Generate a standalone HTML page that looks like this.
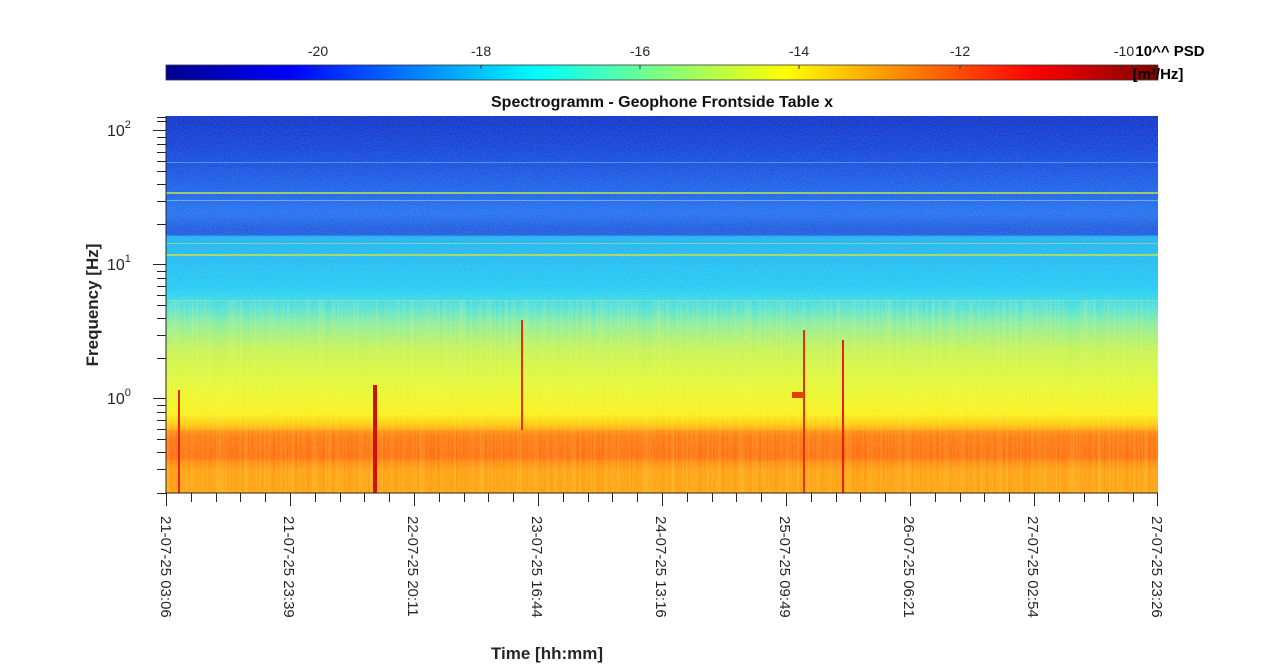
<!DOCTYPE html>
<html><head><style>body{margin:0;background:#fff}svg{display:block}</style></head><body>
<svg width="1280" height="664" xmlns="http://www.w3.org/2000/svg" font-family="Liberation Sans, Arial, sans-serif">
<defs>
<linearGradient id="jet" x1="0" x2="1" y1="0" y2="0">
<stop offset="0" stop-color="#00008f"/><stop offset="0.125" stop-color="#0000ff"/><stop offset="0.375" stop-color="#00ffff"/><stop offset="0.625" stop-color="#ffff00"/><stop offset="0.875" stop-color="#ff0000"/><stop offset="1" stop-color="#800000"/>
</linearGradient>
<linearGradient id="spec" x1="0" x2="0" y1="0" y2="1">
<stop offset="0" stop-color="#0c30c8"/>
<stop offset="0.08" stop-color="#1040d8"/>
<stop offset="0.2" stop-color="#1a60ea"/>
<stop offset="0.26" stop-color="#2070ee"/>
<stop offset="0.3" stop-color="#1a58e0"/>
<stop offset="0.315" stop-color="#1a5ce0"/>
<stop offset="0.32" stop-color="#20b0f0"/>
<stop offset="0.45" stop-color="#20c8f4"/>
<stop offset="0.5" stop-color="#38dce8"/>
<stop offset="0.55" stop-color="#80eca0"/>
<stop offset="0.62" stop-color="#c0f250"/>
<stop offset="0.72" stop-color="#e4f828"/>
<stop offset="0.79" stop-color="#f8f010"/>
<stop offset="0.82" stop-color="#ffc000"/>
<stop offset="0.85" stop-color="#ff7a00"/>
<stop offset="0.9" stop-color="#ff6a00"/>
<stop offset="0.94" stop-color="#ff9800"/>
<stop offset="1" stop-color="#ff9800"/>
</linearGradient>
<filter id="n" x="0" y="0" width="1" height="1">
<feTurbulence type="fractalNoise" baseFrequency="0.9 0.9" numOctaves="1" seed="3"/>
<feColorMatrix type="matrix" values="0 0 0 0 1  0 0 0 0 1  0 0 0 0 1  0 0 0 0.35 -0.1"/>
</filter>
<filter id="v" x="0" y="0" width="1" height="1">
<feTurbulence type="fractalNoise" baseFrequency="0.6 0.005" numOctaves="1" seed="5"/>
<feColorMatrix type="matrix" values="0 0 0 0 1  0 0 0 0 1  0 0 0 0 0.2  0 0 0 0.5 -0.15"/>
</filter>
</defs>
<rect x="166" y="65" width="992" height="15" fill="url(#jet)" stroke="#333" stroke-width="0.8"/>
<g stroke="#333" stroke-width="1">
<line x1="318" y1="65" x2="318" y2="69"/><line x1="481" y1="65" x2="481" y2="69"/><line x1="640" y1="65" x2="640" y2="69"/><line x1="799" y1="65" x2="799" y2="69"/><line x1="960" y1="65" x2="960" y2="69"/><line x1="1120" y1="65" x2="1120" y2="69"/>
</g>
<g font-size="14" fill="#262626" text-anchor="middle">
<text x="318" y="56">-20</text><text x="481" y="56">-18</text><text x="640" y="56">-16</text><text x="799" y="56">-14</text><text x="960" y="56">-12</text><text x="1124" y="56">-10</text>
</g>
<text x="1170" y="56" font-size="15" font-weight="bold" text-anchor="middle">10^^ PSD</text>
<text x="1158" y="79" font-size="15" font-weight="bold" text-anchor="middle">[m²/Hz]</text>
<text x="662" y="107" font-size="16" font-weight="bold" text-anchor="middle" fill="#111">Spectrogramm - Geophone Frontside Table x</text>
<rect x="166" y="116" width="992" height="377" fill="url(#spec)"/>
<g opacity="0.8">
<rect x="166" y="192" width="992" height="2" fill="#b0e040"/>
<rect x="166" y="200" width="992" height="1" fill="#60c0e0"/>
<rect x="166" y="162" width="992" height="1" fill="#40a0e8"/>
<rect x="166" y="254" width="992" height="2" fill="#c0e040"/>
<rect x="166" y="243" width="992" height="1" fill="#70e0b0"/>
<rect x="166" y="300" width="992" height="1" fill="#80e0a0"/>
<rect x="166" y="430" width="992" height="30" fill="#ff5000" opacity="0.35"/>
</g>
<rect x="166" y="116" width="992" height="377" filter="url(#n)"/>
<rect x="166" y="300" width="992" height="193" filter="url(#v)"/>
<g>
<rect x="373" y="385" width="4" height="108" fill="#d01000"/>
<rect x="178" y="390" width="2" height="103" fill="#e82000"/>
<rect x="521" y="320" width="2" height="110" fill="#e83000"/>
<rect x="803" y="330" width="2" height="163" fill="#e83000"/>
<rect x="842" y="340" width="2" height="153" fill="#e82000"/>
<rect x="792" y="392" width="12" height="6" fill="#e84000"/>
</g>
<g stroke="#262626" stroke-width="1" fill="none">
<line x1="166" y1="116" x2="166" y2="493"/>
<line x1="166" y1="493" x2="1158" y2="493"/>
</g>
<g stroke="#262626" stroke-width="1">
<line x1="153" y1="130.5" x2="166" y2="130.5"/><line x1="153" y1="264.5" x2="166" y2="264.5"/><line x1="153" y1="398.5" x2="166" y2="398.5"/>
<path d="M157 493.5H166M157 469.5H166M157 452.5H166M157 439.5H166M157 429.5H166M157 420.5H166M157 412.5H166M157 405.5H166
M157 358.5H166M157 335.5H166M157 318.5H166M157 305.5H166M157 295.5H166M157 286.5H166M157 278.5H166M157 271.5H166
M157 224.5H166M157 201.5H166M157 184.5H166M157 171.5H166M157 161.5H166M157 152.5H166M157 144.5H166M157 137.5H166
M157 117.5H166M157 121.5H166"/>
</g>
<g stroke="#262626" stroke-width="1">
<path d="M166.5 493V506M290.5 493V506M414.5 493V506M538.5 493V506M662.5 493V506M786.5 493V506M910.5 493V506M1034.5 493V506M1157.5 493V506"/>
<path d="M191.5 493V502M216.5 493V502M240.5 493V502M265.5 493V502M315.5 493V502M340.5 493V502M364.5 493V502M389.5 493V502M439.5 493V502M464.5 493V502M488.5 493V502M513.5 493V502M563.5 493V502M588.5 493V502M612.5 493V502M637.5 493V502M687.5 493V502M712.5 493V502M736.5 493V502M761.5 493V502M811.5 493V502M836.5 493V502M860.5 493V502M885.5 493V502M935.5 493V502M960.5 493V502M984.5 493V502M1009.5 493V502M1059.5 493V502M1084.5 493V502M1108.5 493V502M1133.5 493V502"/>
</g>
<g font-size="16" fill="#262626">
<text x="107" y="136">10<tspan font-size="11" dy="-8">2</tspan></text>
<text x="107" y="270">10<tspan font-size="11" dy="-8">1</tspan></text>
<text x="107" y="404">10<tspan font-size="11" dy="-8">0</tspan></text>
</g>
<g font-size="15" fill="#262626">
<text transform="translate(161,516) rotate(90)">21-07-25 03:06</text>
<text transform="translate(284,516) rotate(90)">21-07-25 23:39</text>
<text transform="translate(408,516) rotate(90)">22-07-25 20:11</text>
<text transform="translate(532,516) rotate(90)">23-07-25 16:44</text>
<text transform="translate(656,516) rotate(90)">24-07-25 13:16</text>
<text transform="translate(780,516) rotate(90)">25-07-25 09:49</text>
<text transform="translate(904,516) rotate(90)">26-07-25 06:21</text>
<text transform="translate(1028,516) rotate(90)">27-07-25 02:54</text>
<text transform="translate(1152,516) rotate(90)">27-07-25 23:26</text>
</g>
<text transform="translate(98,305) rotate(-90)" font-size="17" font-weight="bold" text-anchor="middle" fill="#262626">Frequency [Hz]</text>
<text x="547" y="659" font-size="17" font-weight="bold" text-anchor="middle" fill="#262626">Time [hh:mm]</text>
</svg>
</body></html>
